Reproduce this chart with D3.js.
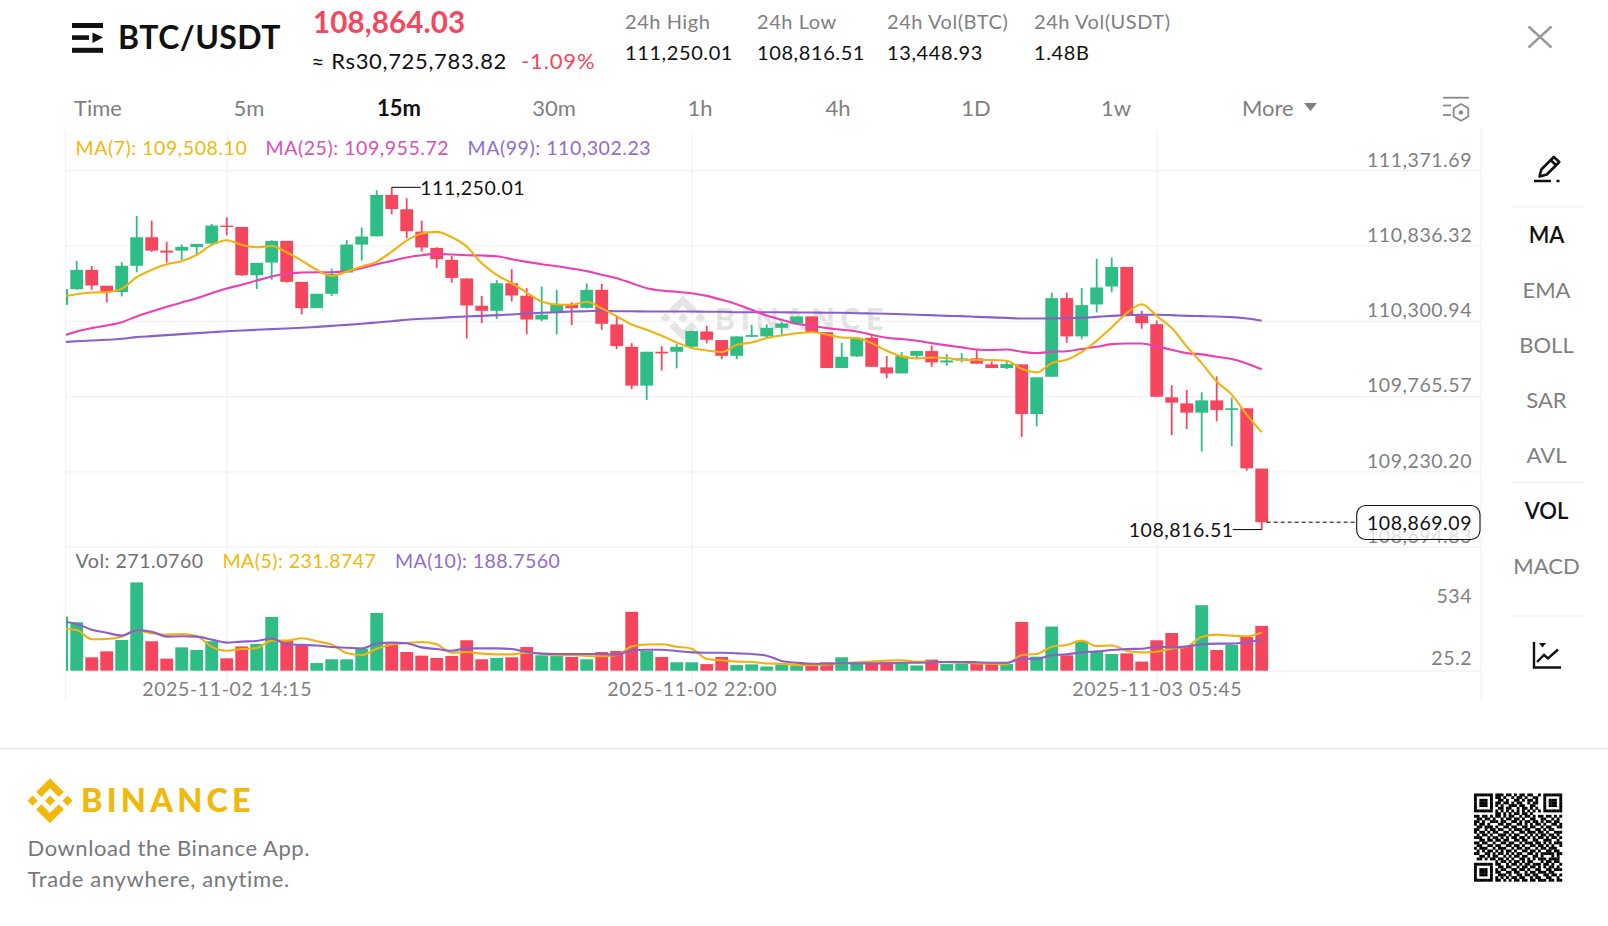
<!DOCTYPE html>
<html><head><meta charset="utf-8">
<style>html,body{margin:0;padding:0;background:#fff;overflow:hidden}svg{display:block}text{font-family:Lato,"Open Sans",sans-serif}</style>
<script src="https://cdn.jsdelivr.net/npm/d3@7"></script>
</head><body><svg id="c" width="1608" height="926"></svg>
<script>
const open=[110415,110526,110663,110550,110505,110692,110895,110800,110800,110826,110850,110978,110968,110625,110715,110869,110578,110391,110493,110644,110843,110902,111196,111094,110935,110819,110734,110602,110408,110372,110568,110479,110310,110365,110415,110393,110521,110275,110116,109840,110081,110081,110116,110225,110164,110052,110187,110190,110251,110282,110332,110220,109965,110048,110180,109970,109927,110052,110086,110005,110019,110034,109991,109965,109991,109638,109903,110462,110190,110417,110545,110684,110339,110277,109757,109714,109648,109735,109667,109679,109250];
const close=[110526,110663,110552,110505,110692,110895,110800,110786,110826,110848,110978,110968,110625,110713,110869,110578,110391,110493,110635,110843,110900,111196,111096,110938,110822,110739,110606,110410,110372,110568,110481,110310,110344,110415,110391,110521,110280,110121,109840,110081,110069,110116,110228,110166,110052,110190,110199,110251,110282,110332,110220,109965,110045,110180,109974,109927,110052,110086,110005,110019,110034,109996,109965,109993,109638,109899,110462,110190,110412,110538,110684,110341,110284,109761,109719,109648,109735,109667,109679,109252,108869.09];
const high=[110540,110727,110691,110550,110717,111046,111013,110862,110843,110848,110990,111037,110968,110713,110874,110869,110578,110493,110672,110876,110964,111229,111250.01,111172,111013,110824,110762,110602,110478,110592,110668,110533,110545,110521,110433,110568,110564,110332,110142,110081,110121,110135,110232,110265,110164,110190,110273,110275,110296,110332,110332,110220,110145,110180,110202,110050,110078,110086,110126,110064,110071,110095,110012,110012,109991,109899,110500,110500,110535,110741,110751,110684,110372,110303,109842,109809,109792,109906,109754,109679,109250];
const low=[110400,110521,110521,110431,110474,110646,110791,110715,110734,110762,110850,110909,110620,110526,110594,110573,110346,110391,110478,110644,110729,110902,111058,110888,110793,110677,110573,110176,110284,110315,110438,110206,110299,110204,110270,110389,110237,110100,109816,109738,109948,109963,110116,110142,110029,110029,110185,110176,110194,110282,110220,109965,109965,110043,109974,109894,109927,110036,109974,109981,110005,109996,109965,109958,109475,109551,109903,110145,110171,110360,110504,110341,110244,109761,109489,109532,109371,109586,109409,109236,108816.51];
const ma7=[110474,110490,110502,110504,110528,110611,110663,110703,110725,110770,110841,110874,110841,110824,110833,110788,110729,110663,110620,110651,110687,110722,110793,110871,110921,110933,110895,110829,110710,110628,110568,110502,110438,110417,110415,110436,110389,110332,110275,110237,110194,110147,110107,110090,110078,110130,110147,110178,110197,110213,110220,110204,110182,110178,110142,110088,110048,110033,110040,110036,110022,110022,110022,110017,109960,109934,110000,110024,110078,110159,110254,110355,110419,110336,110249,110119,110000,109870,109776,109634,109508.1];
const ma25=[110190,110225,110249,110268,110291,110332,110367,110400,110431,110462,110497,110531,110557,110587,110616,110637,110644,110646,110646,110654,110675,110703,110727,110751,110767,110777,110772,110767,110765,110760,110739,110720,110703,110689,110672,110654,110628,110604,110568,110533,110516,110507,110497,110478,110450,110419,110379,110339,110308,110280,110265,110249,110237,110225,110202,110180,110171,110159,110142,110126,110112,110097,110093,110097,110081,110071,110081,110085,110100,110116,110135,110140,110140,110119,110095,110071,110062,110045,110029,109998,109955.72];
const ma99=[110149,110156,110161,110166,110173,110185,110192,110199,110206,110213,110220,110227,110232,110237,110242,110246,110251,110258,110265,110272,110280,110289,110298,110308,110315,110320,110327,110332,110336,110341,110346,110353,110358,110362,110367,110369,110372,110369,110369,110367,110367,110367,110367,110365,110365,110362,110362,110362,110362,110360,110360,110358,110358,110355,110353,110351,110348,110344,110341,110336,110334,110329,110325,110322,110317,110317,110317,110320,110322,110329,110336,110341,110344,110344,110341,110336,110334,110332,110327,110317,110302.23];
const volume=[327,293,81,117,186,534,178,73,141,125,178,75,147,162,325,182,156,46,69,69,133,349,162,113,91,77,89,184,69,77,81,143,93,93,83,69,113,119,356,119,83,51,51,40,83,34,38,25.2,38,30,30,51,81,44,44,51,48,32,67,40,44,44,44,40,295,85,267,93,180,115,101,105,55,184,228,149,396,125,156,204,271.076];
const volMa5=[253,246,190,192,206,244,226,218,222,210,145,121,131,137,182,182,196,178,158,107,95,133,158,168,174,160,109,113,103,99,99,109,101,93,95,89,87,93,147,158,160,145,133,71,63,55,53,44,42,34,34,36,46,51,55,61,63,55,53,51,48,44,42,40,95,101,145,156,182,149,152,121,111,115,133,145,204,218,212,208,231.87];
const volMa10=[297,283,248,230,212,244,236,206,208,206,188,170,176,180,194,160,156,152,143,139,135,164,170,166,141,131,121,135,135,135,131,113,103,101,101,101,101,97,123,127,127,119,111,109,109,105,101,91,59,48,42,42,46,44,44,44,48,48,51,53,53,51,48,48,73,71,93,99,111,117,125,131,133,145,141,147,160,164,164,172,188.76];
const priceTicks=[111371.69,110836.32,110300.94,109765.57,109230.20,108694.83];
const volTicks=[534,25.2];
const timeTickIdx=[11,42,73];
const timeTickLabels=["2025-11-02 14:15","2025-11-02 22:00","2025-11-03 05:45"];
const tabs=["Time","5m","15m","30m","1h","4h","1D","1w"];
const tabX=[98,249,399,554,700,838,976,1116];
const sideItems=["MA","EMA","BOLL","SAR","AVL","VOL","MACD"];
const stats=[["24h High","111,250.01",625],["24h Low","108,816.51",757],["24h Vol(BTC)","13,448.93",887],["24h Vol(USDT)","1.48B",1034]];
const qrRows=["111111101110110101101100101111111","100000101101001011010011001000001","101110100110100110101101001011101","101110101101101011001011001011101","101110101010011101100110001011101","100000100110110010110101001000001","111111101010101010101010101111111","000000001101010110110100000000000","110110101101011001011010110110101","011011010010110110100110011001010","110100111011001101011011010110110","101101000110110011010101101001101","011011101001101100110110010110011","110010110110010111011001101011000","101101011001101001101110110100111","010110100111010110010101011011010","111001011010101101101010110101101","001101101101100110110011001110010","110110010011011001011101101010111","011001101100110110100110110101001","101110010111001011011001011011100","010101101010110100110110100110110","110011010110101011001101011111011","001101011001010110110011010001010","011010110110101001101010111011110","000000001011010110101100010110110","111111101100101101011011101101001","100000100110110010110110101011010","101110101011001101101001100110111","101110101100110110010110111011000","101110100111010011011011001101101","100000101010101101100101100110010","111111101101010110110110111011011"];

const C={up:"#2EBD85",down:"#F6465D",ma1:"#F0B90B",ma2:"#EB40B5",ma3:"#8A5FCB",grid:"#F1F2F4",axis:"#7F7F7F",label:"#848E9C",ink:"#000"};
const svg=d3.select("#c");
const x=d3.scaleLinear().domain([0,80]).range([61.7,1261.7]);
const y=d3.scaleLinear().domain([108694.83,111371.69]).range([546.7,170.2]);
const yv=d3.scaleLinear().domain([0,534]).range([670.7,582.4]);
const idx=d3.range(open.length);
svg.append("defs").append("clipPath").attr("id","plot").append("rect").attr("x",66).attr("y",128).attr("width",1415).attr("height",572);
const binancePaths=["M38.73 53.2l24.59-24.58 24.6 24.6 14.3-14.31L63.32 0 24.42 38.9z","M0 63.31l14.3-14.31 14.31 14.31-14.31 14.3z","M38.73 73.41l24.59 24.59 24.6-24.6 14.31 14.29-38.9 38.91-38.91-38.88z","M98 63.31l14.3-14.31 14.31 14.31-14.31 14.3z","M77.83 63.3L63.32 48.78 52.59 59.51l-1.24 1.23-2.54 2.54 14.51 14.5 14.51-14.47z"];
function logo(cx,cy,size,fill){const s=size/126.61;svg.append("g").attr("transform",`translate(${cx-size/2},${cy-size/2}) scale(${s})`).selectAll("path").data(binancePaths).join("path").attr("d",d=>d).attr("fill",fill);}
function txt(s,px,py,size,fill,opt={}){return svg.append("text").attr("x",px).attr("y",py).attr("dy","0.35em").attr("font-size",size).attr("fill",fill).attr("font-weight",opt.w||400).attr("text-anchor",opt.a||"start").attr("letter-spacing",opt.ls||0).text(s);}

// frame
const frame=svg.append("g").attr("stroke",C.grid).attr("stroke-width",1.2);
frame.append("line").attr("x1",65.6).attr("x2",65.6).attr("y1",131).attr("y2",700);
frame.append("line").attr("x1",1481).attr("x2",1481).attr("y1",128).attr("y2",700);
// time axis w/ vertical grid
const tAxis=svg.append("g").attr("transform","translate(0,700)").call(d3.axisBottom(x).tickValues(timeTickIdx).tickSize(-569).tickFormat((d,i)=>timeTickLabels[i]));
tAxis.select(".domain").remove();
tAxis.selectAll("line").attr("stroke",C.grid).attr("stroke-width",1.2);
tAxis.selectAll("text").attr("y",-4.5).attr("dy","0").attr("font-size",19.5).attr("fill",C.axis).attr("font-family","Lato").attr("letter-spacing",.62);
// watermark
logo(683,318,45,"#E4E4E4");
txt("BINANCE",715,319,30,"#E2E2E2",{w:900,ls:5.8});
// price axis
const pAxis=svg.append("g").attr("transform","translate(1481,0)").call(d3.axisLeft(y).tickValues(priceTicks).tickSize(1415).tickFormat(d3.format(",.2f")));
pAxis.select(".domain").remove();
pAxis.selectAll("line").attr("stroke",C.grid).attr("stroke-width",1.2);
pAxis.selectAll("text").attr("x",-9).attr("y",-11).attr("dy","0.35em").attr("font-size",19.5).attr("fill",C.axis).attr("font-family","Lato").attr("letter-spacing",.55);
const vAxis=svg.append("g").attr("transform","translate(1481,0)").call(d3.axisLeft(yv).tickValues([0]).tickSize(1415).tickFormat(""));
vAxis.select(".domain").remove();
vAxis.selectAll("line").attr("stroke",C.grid).attr("stroke-width",1.2);
const vl=[[534,596],[25.2,658.3]];
vl.forEach((d,i)=>txt(volTicks[i],1472,d[1],19.5,C.axis,{a:"end",ls:.55}));

// candles
const marks=svg.append("g").attr("clip-path","url(#plot)");
const col=i=>close[i]>=open[i]?C.up:C.down;
marks.append("g").selectAll("line").data(idx).join("line").attr("x1",x).attr("x2",x).attr("y1",i=>y(high[i])).attr("y2",i=>y(low[i])).attr("stroke",col).attr("stroke-width",1.8);
marks.append("g").selectAll("rect").data(idx).join("rect").attr("x",i=>x(i)-6.4).attr("width",12.8).attr("y",i=>y(Math.max(open[i],close[i]))).attr("height",i=>Math.max(1.4,Math.abs(y(open[i])-y(close[i])))).attr("fill",col);
// volume
marks.append("g").selectAll("rect").data(idx).join("rect").attr("x",i=>x(i)-6.4).attr("width",12.8).attr("y",i=>yv(volume[i])).attr("height",i=>yv(0)-yv(volume[i])).attr("fill",col);
const curve=d3.curveMonotoneX;
const ln=(arr,sc)=>d3.line().x(i=>x(i)).y(i=>sc(arr[i])).curve(curve)(idx);
[[ma99,y,C.ma3],[ma25,y,C.ma2],[ma7,y,"#F2B10F"],[volMa5,yv,"#F2B10F"],[volMa10,yv,C.ma3]].forEach(([a,s,c])=>marks.append("path").attr("d",ln(a,s)).attr("fill","none").attr("stroke",c).attr("stroke-width",2.1).attr("stroke-linejoin","round"));

// legends
let lg=(t,px,py,c,ls=.55)=>txt(t,px,py,19.5,c,{ls});
lg("MA(7): 109,508.10",75.5,148,"#F0B90B");lg("MA(25): 109,955.72",265.6,148,"#D94FB5");lg("MA(99): 110,302.23",467.6,148,"#8F6DC9");
lg("Vol: 271.0760",75.5,561,"#707070");lg("MA(5): 231.8747",222.5,561,"#F0B90B",.48);lg("MA(10): 188.7560",395,561,"#8F6DC9",.45);
// hi/lo annotation
const hi=22,lo=80;
svg.append("line").attr("x1",x(hi)).attr("x2",x(hi)+29).attr("y1",y(high[hi])).attr("y2",y(high[hi])).attr("stroke","#000").attr("stroke-width",1);
txt(d3.format(",.2f")(high[hi]),x(hi)+28.5,y(high[hi])+1,19.5,"#111",{ls:.55});
svg.append("line").attr("x1",x(lo)-29).attr("x2",x(lo)).attr("y1",y(low[lo])).attr("y2",y(low[lo])).attr("stroke","#000").attr("stroke-width",1);
txt(d3.format(",.2f")(low[lo]),x(lo)-28,y(low[lo])+1,19.5,"#111",{a:"end",ls:.55});
// last price
const lastY=y(close[80]);
svg.append("line").attr("x1",x(80)+5).attr("x2",1356).attr("y1",lastY).attr("y2",lastY).attr("stroke","#000").attr("stroke-width",1).attr("stroke-dasharray","4 3");
svg.append("rect").attr("x",1356.7).attr("y",505.5).attr("width",123.3).attr("height",34).attr("rx",9).attr("fill","#fff").attr("fill-opacity",.75).attr("stroke","#111").attr("stroke-width",1.1);
txt(d3.format(",.2f")(close[80]),1472,523.6,19.5,"#111",{a:"end",ls:.55});

// header
const ham=svg.append("g").attr("fill","#111");
ham.append("rect").attr("x",72).attr("y",23).attr("width",31).attr("height",5);
ham.append("rect").attr("x",72).attr("y",35.3).attr("width",17).attr("height",4.6);
ham.append("path").attr("d","M92.5 32.5l10.5 5-10.5 5.5z");
ham.append("rect").attr("x",72).attr("y",47.8).attr("width",31).attr("height",5);
txt("BTC/USDT",118,38,32,"#111",{w:700,ls:.45});
txt("108,864.03",313,23,29.5,C.down,{w:700,ls:.15});
txt("≈ Rs30,725,783.82",311.5,61.5,22,"#111",{ls:.66});
txt("-1.09%",521,61.5,22,C.down,{ls:.85});
stats.forEach(s=>{txt(s[0],s[2],21.5,20,C.axis,{ls:.55});txt(s[1],s[2],53,20,"#111",{ls:.6});});
tabs.forEach((t,i)=>txt(t,tabX[i],108.7,22,i==2?"#111":C.axis,{a:"middle",w:i==2?700:400}));
txt("More",1242,108.7,22,C.axis);
svg.append("path").attr("d","M1304 103h13l-6.5 8z").attr("fill",C.axis);
// settings icon
const ic=svg.append("g").attr("stroke","#8a8a8a").attr("stroke-width",1.8).attr("fill","none");
ic.append("line").attr("x1",1443).attr("x2",1469).attr("y1",97.7).attr("y2",97.7);
ic.append("line").attr("x1",1443).attr("x2",1451).attr("y1",105.5).attr("y2",105.5);
ic.append("line").attr("x1",1443).attr("x2",1451).attr("y1",115).attr("y2",115);
ic.append("path").attr("d","M1461 104l7.3 4.2v8.4l-7.3 4.2-7.3-4.2v-8.4z");
svg.append("circle").attr("cx",1461).attr("cy",112.4).attr("r",2.2).attr("fill","#8a8a8a");
// close
svg.append("path").attr("d","M1528.5 26.5l23 21M1551.5 26.5l-23 21").attr("stroke","#999").attr("stroke-width",2.4).attr("fill","none");
// side menu
const sideY=[235,290,345.6,400,455,511,566];
sideItems.forEach((t,i)=>txt(t,1546.5,sideY[i],22,(i==0||i==5)?"#111":C.axis,{a:"middle",w:(i==0||i==5)?600:400}));
[207,482.7,616].forEach(v=>svg.append("line").attr("x1",1512).attr("x2",1583).attr("y1",v).attr("y2",v).attr("stroke","#ECEDEF").attr("stroke-width",1.2));
// pencil
const pen=svg.append("g").attr("stroke","#111").attr("fill","none").attr("stroke-width",2.6).attr("stroke-linejoin","round");
pen.append("path").attr("d","M1539.5 176.5l1.8-7 12.5-12.5 5.5 5-12.5 12.5z");
pen.append("path").attr("d","M1550.5 160l5.5 5");
pen.append("path").attr("d","M1534 181h17M1556.5 181h3");
// chart icon
const ci=svg.append("g").attr("stroke","#111").attr("fill","none").attr("stroke-width",2.4);
ci.append("path").attr("d","M1534 642v25.5h27");
ci.append("path").attr("d","M1537 662l7-7 4 3.5 10-9");
svg.append("path").attr("d","M1539 643h7l-3.5 4.5z").attr("fill","#111");

// footer
svg.append("line").attr("x1",0).attr("x2",1608).attr("y1",748.6).attr("y2",748.6).attr("stroke","#E6E8EA").attr("stroke-width",1.5);
logo(50,800.7,45,"#F0B90B");
txt("BINANCE",81,801,32.5,"#F0B90B",{w:900,ls:4.2});
txt("Download the Binance App.",27.5,848.5,22,"#76787c",{ls:.55});
txt("Trade anywhere, anytime.",27.5,879,22,"#76787c",{ls:.66});
// qr
const m=88/33;
qrRows.forEach((r,ri)=>r.split("").forEach((c,ci2)=>{if(c==="1")svg.append("rect").attr("x",1474+ci2*m).attr("y",793.5+ri*m).attr("width",m+.2).attr("height",m+.2).attr("fill","#000");}));
</script></body></html>
